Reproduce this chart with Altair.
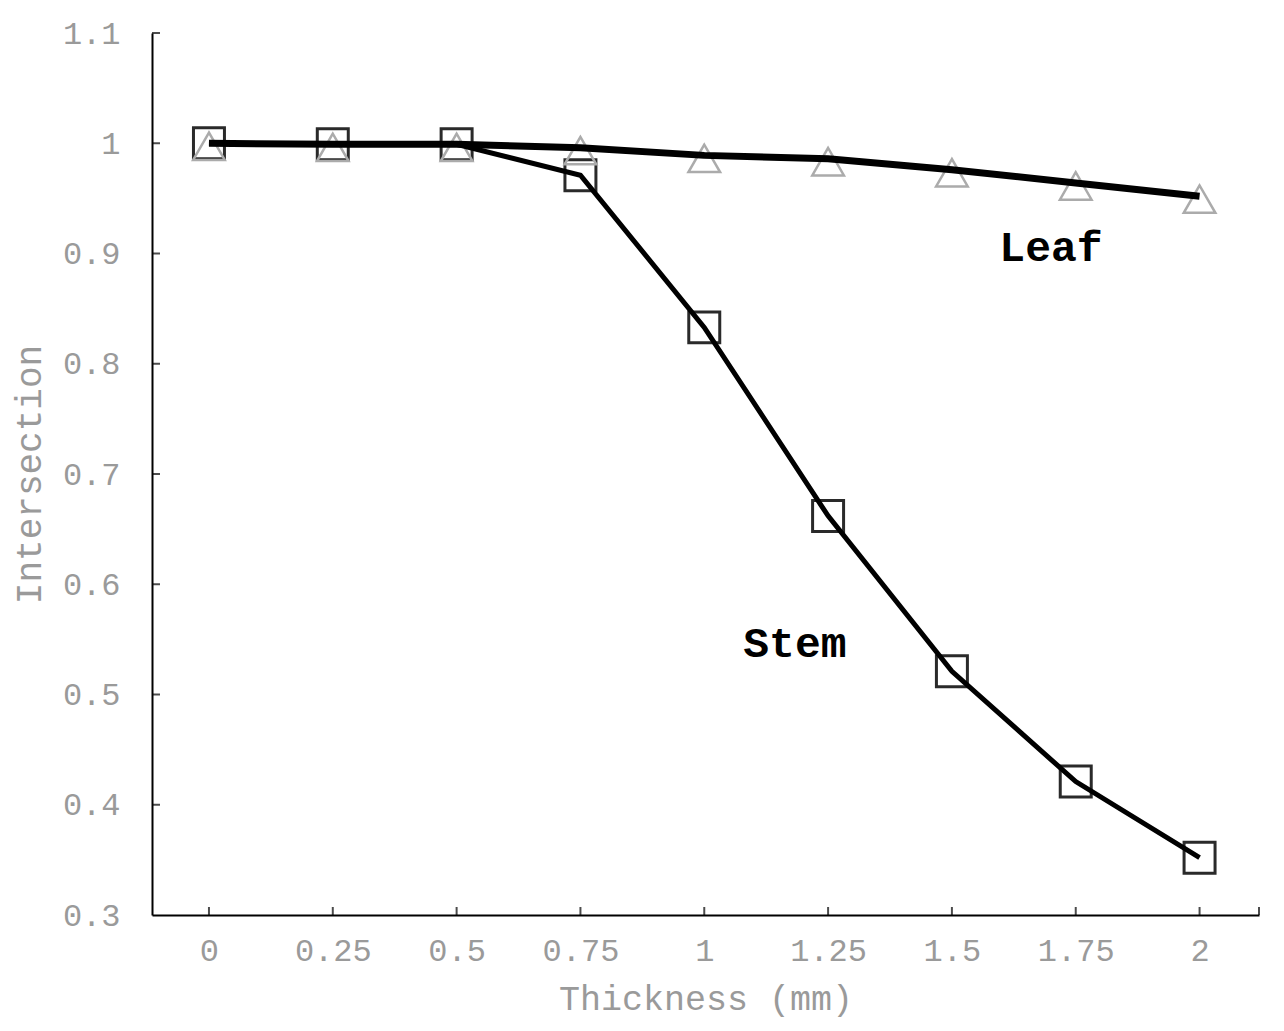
import altair as alt
import pandas as pd

thickness = [0, 0.25, 0.5, 0.75, 1.0, 1.25, 1.5, 1.75, 2.0]
leaf = [1.000, 0.999, 0.999, 0.996, 0.989, 0.986, 0.976, 0.964, 0.952]
stem = [1.000, 0.999, 0.999, 0.971, 0.833, 0.662, 0.521, 0.421, 0.352]

x_ticks = [0, 0.25, 0.5, 0.75, 1.0, 1.25, 1.5, 1.75, 2.0, 2.12]
y_ticks = [0.4, 0.5, 0.6, 0.7, 0.8, 0.9, 1.0, 1.1]

label_names = ["Leaf", "Stem"]
label_x = [1.70, 1.183]
label_y = [0.905, 0.546]

x_domain = [-0.115, 2.12]
y_domain = [0.3, 1.1]

FONT = "Liberation Mono"
GRAY = "#9a9a9a"

df = pd.DataFrame({"t": thickness, "leaf": leaf, "stem": stem})
xt = pd.DataFrame({"v": x_ticks})
yt = pd.DataFrame({"v": y_ticks})
lab = pd.DataFrame({"name": label_names, "x": label_x, "y": label_y})

xs = alt.Scale(domain=x_domain, nice=False, zero=False)
ys = alt.Scale(domain=y_domain, nice=False, zero=False)

xaxis = alt.Axis(
    title="Thickness (mm)", values=thickness, ticks=False, tickSize=0, grid=False,
    domainColor="black", domainWidth=2, labelFont=FONT, labelFontSize=32,
    labelColor=GRAY, labelPadding=20, titleFont=FONT, titleFontSize=35,
    titleFontWeight="normal", titleColor=GRAY, titlePadding=15,
    labelExpr="datum.value == 0 ? '0' : format(datum.value, '~g')",
)
yaxis = alt.Axis(
    title="Intersection", values=[0.3, 0.4, 0.5, 0.6, 0.7, 0.8, 0.9, 1.0, 1.1],
    ticks=False, tickSize=0, grid=False, domainColor="black", domainWidth=2,
    labelFont=FONT, labelFontSize=32, labelColor=GRAY, labelPadding=32,
    titleFont=FONT, titleFontSize=36, titleFontWeight="normal", titleColor=GRAY,
    titlePadding=14, labelExpr="format(datum.value, '~g')",
)

base = alt.Chart(df)

stem_pts = base.mark_point(shape="square", size=960, filled=False, stroke="#2a2a2a",
                           strokeWidth=3, opacity=1).encode(
    x=alt.X("t:Q", scale=xs, axis=xaxis), y=alt.Y("stem:Q", scale=ys, axis=yaxis))
leaf_pts = base.mark_point(shape="triangle-up", size=1000, filled=False, stroke="#ababab",
                           strokeWidth=2.5, opacity=1, yOffset=3).encode(
    x=alt.X("t:Q", scale=xs), y=alt.Y("leaf:Q", scale=ys))
stem_line = base.mark_line(color="black", strokeWidth=5, interpolate="linear").encode(
    x=alt.X("t:Q", scale=xs), y=alt.Y("stem:Q", scale=ys))
leaf_line = base.mark_line(color="black", strokeWidth=7, interpolate="linear").encode(
    x=alt.X("t:Q", scale=xs), y=alt.Y("leaf:Q", scale=ys))

xtick_marks = alt.Chart(xt).mark_tick(orient="vertical", size=8, thickness=2,
                                      color="black", yOffset=-4).encode(
    x=alt.X("v:Q", scale=xs), y=alt.datum(0.3, scale=ys))
ytick_marks = alt.Chart(yt).mark_tick(orient="horizontal", size=8, thickness=2,
                                      color="black", xOffset=4).encode(
    y=alt.Y("v:Q", scale=ys), x=alt.datum(-0.115, scale=xs))

labels = alt.Chart(lab).mark_text(font=FONT, fontSize=43, fontWeight="bold",
                                  color="black", align="center", baseline="middle").encode(
    x=alt.X("x:Q", scale=xs), y=alt.Y("y:Q", scale=ys), text="name:N")

chart = alt.layer(
    stem_pts, leaf_pts, leaf_line, stem_line, xtick_marks, ytick_marks, labels
).properties(
    width=1107, height=882,
    autosize=alt.AutoSizeParams(type="none"),
    padding={"left": 144, "top": 25, "right": 17, "bottom": 106},
    background="white",
).configure_view(stroke=None)

chart.save("out.html", embed_options={"renderer": "svg", "actions": False})
